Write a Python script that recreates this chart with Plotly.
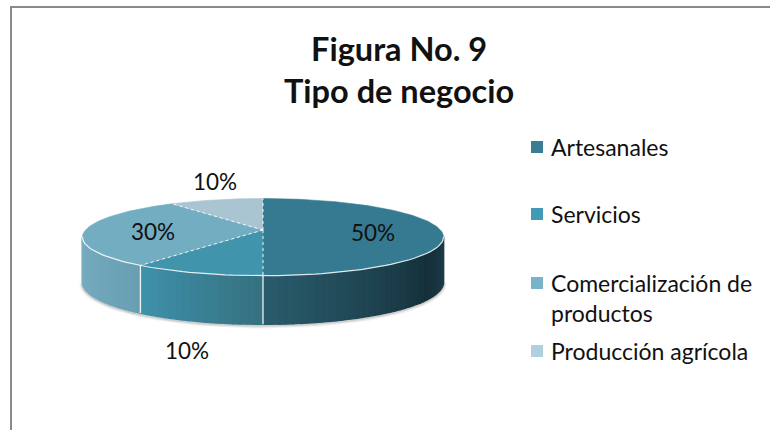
import math
import plotly.graph_objects as go

categories = ["Artesanales", "Servicios", "Comercialización de<br>productos", "Producción agrícola"]
values = [50, 10, 30, 10]
top_colors = ["#357a91", "#4095ad", "#72adc1", "#a9c5d1"]
legend_colors = ["#3a7d93", "#439ab6", "#77b3c9", "#b1d0dd"]
wall_stops = [
    [(100, "#1f3f4b"), (125, "#15303a"), (180, "#2a5c6c")],
    [(180, "#35707f"), (216, "#3f93ad")],
    [(216, "#6a9fb3"), (262, "#7ab0c3")],
    [(324, "#a9c5d1"), (360, "#a9c5d1")],
]
label_texts = ["50%", "10%", "30%", "10%"]
legend_y = [147, 214, 283, 351]

CX, CY, R, A, K = 263, 230, 177.5, 37.3, 0.184


def top_pt(deg):
    t = math.radians(deg)
    u, v = math.sin(t), math.cos(t)
    d = 1 + K * v
    return CX + R * u / d, CY - A * v / d


def bot_pt(deg):
    x, y = top_pt(deg)
    return x, y + 44 - 4.5 * math.cos(math.radians(deg))


def hex2rgb(h):
    return tuple(int(h[i:i + 2], 16) for i in (1, 3, 5))


def grad(stops, deg):
    if deg <= stops[0][0]:
        return stops[0][1]
    for (a, ca), (b, cb) in zip(stops, stops[1:]):
        if deg <= b:
            f = (deg - a) / (b - a)
            ra, rb = hex2rgb(ca), hex2rgb(cb)
            return "rgb(%d,%d,%d)" % tuple(round(p + (q - p) * f) for p, q in zip(ra, rb))
    return stops[-1][1]


fig = go.Figure()


def poly(xs, ys, fill, width=0.6):
    fig.add_trace(go.Scatter(x=xs, y=ys, mode="lines", fill="toself", fillcolor=fill,
                             line=dict(color=fill, width=width),
                             hoverinfo="skip", showlegend=False))


def path(pts, color, width, dash=None):
    fig.add_trace(go.Scatter(x=[p[0] for p in pts], y=[p[1] for p in pts], mode="lines",
                             line=dict(color=color, width=width, dash=dash),
                             hoverinfo="skip", showlegend=False))


bounds = [0]
for v in values:
    bounds.append(bounds[-1] + v * 3.6)

# soft shadow under the pie
arc = list(range(100, 262, 3))
for w, op in ((7, 0.06), (5, 0.10), (3, 0.16)):
    path([(bot_pt(a)[0], bot_pt(a)[1] + 1) for a in arc], "rgba(90,90,90,%.2f)" % op, w)

# side walls, drawn as thin strips to carry the gradient
for i, v in enumerate(values):
    a0, a1 = bounds[i], bounds[i + 1]
    a = max(a0, 100)
    while a < min(a1, 260):
        b = min(a + 2, a1)
        pts = [top_pt(a), top_pt(b), bot_pt(b), bot_pt(a)]
        poly([p[0] for p in pts], [p[1] for p in pts], grad(wall_stops[i], (a + b) / 2), 1.6)
        a = b

# top faces
for i, v in enumerate(values):
    a0, a1 = bounds[i], bounds[i + 1]
    n = max(2, int(a1 - a0))
    pts = [(CX, CY)] + [top_pt(a0 + (a1 - a0) * j / n) for j in range(n + 1)]
    poly([p[0] for p in pts], [p[1] for p in pts], top_colors[i])

# rims and dividers
path([top_pt(a) for a in range(100, 262, 2)], "rgba(255,255,255,0.85)", 1.2)
for b in (180, 216):
    path([top_pt(b), bot_pt(b)], "rgba(255,255,255,0.9)", 1.3)
for b in bounds[:4]:
    path([(CX, CY), top_pt(b)], "rgba(255,255,255,0.9)", 1, "dot")

# legend swatches
fig.add_trace(go.Scatter(x=[537] * 4, y=legend_y, mode="markers",
                         marker=dict(symbol="square", size=12, color=legend_colors),
                         hoverinfo="skip", showlegend=False))

FONT = "Lato, Carlito, sans-serif"
ann = []


def text(x, y, s, size, anchor="center", bold=False, align="center"):
    ann.append(dict(x=x, y=y, xref="x", yref="y", text="<b>%s</b>" % s if bold else s, showarrow=False,
                    xanchor=anchor, yanchor="middle", align=align,
                    font=dict(family=FONT, size=size, color="#111111")))


text(399, 69, "Figura No. 9<br>Tipo de negocio", 32.5, bold=True)
for name, y in zip(categories, legend_y):
    if "<br>" in name:
        text(549, y + 15, name, 23, "left", align="left")
    else:
        text(549, y, name, 23, "left", align="left")

mid = [(bounds[i] + bounds[i + 1]) / 2 for i in range(4)]
lx, ly = top_pt(mid[0])
text(CX + (lx - CX) * 0.62, 232, label_texts[0], 22.5)
text(187, 350, label_texts[1], 22.5)
lx, ly = top_pt(mid[2])
text(CX + (lx - CX) * 0.62, 231, label_texts[2], 22.5)
text(215, 181, label_texts[3], 22.5)

fig.update_layout(
    width=770, height=430, margin=dict(l=0, r=0, t=0, b=0),
    paper_bgcolor="white", plot_bgcolor="white", annotations=ann,
    xaxis=dict(range=[0, 770], visible=False, fixedrange=True),
    yaxis=dict(range=[430, 0], visible=False, fixedrange=True),
    shapes=[
        dict(type="line", xref="x", yref="y", x0=11, x1=11, y0=6, y1=430, line=dict(color="#8a8a8a", width=2)),
        dict(type="line", xref="x", yref="y", x0=10, x1=770, y0=7, y1=7, line=dict(color="#8a8a8a", width=2)),
    ],
)
fig.write_html("out.html", config=dict(displayModeBar=False),
               post_script="document.body.style.margin='0';document.documentElement.style.overflow='hidden';")
